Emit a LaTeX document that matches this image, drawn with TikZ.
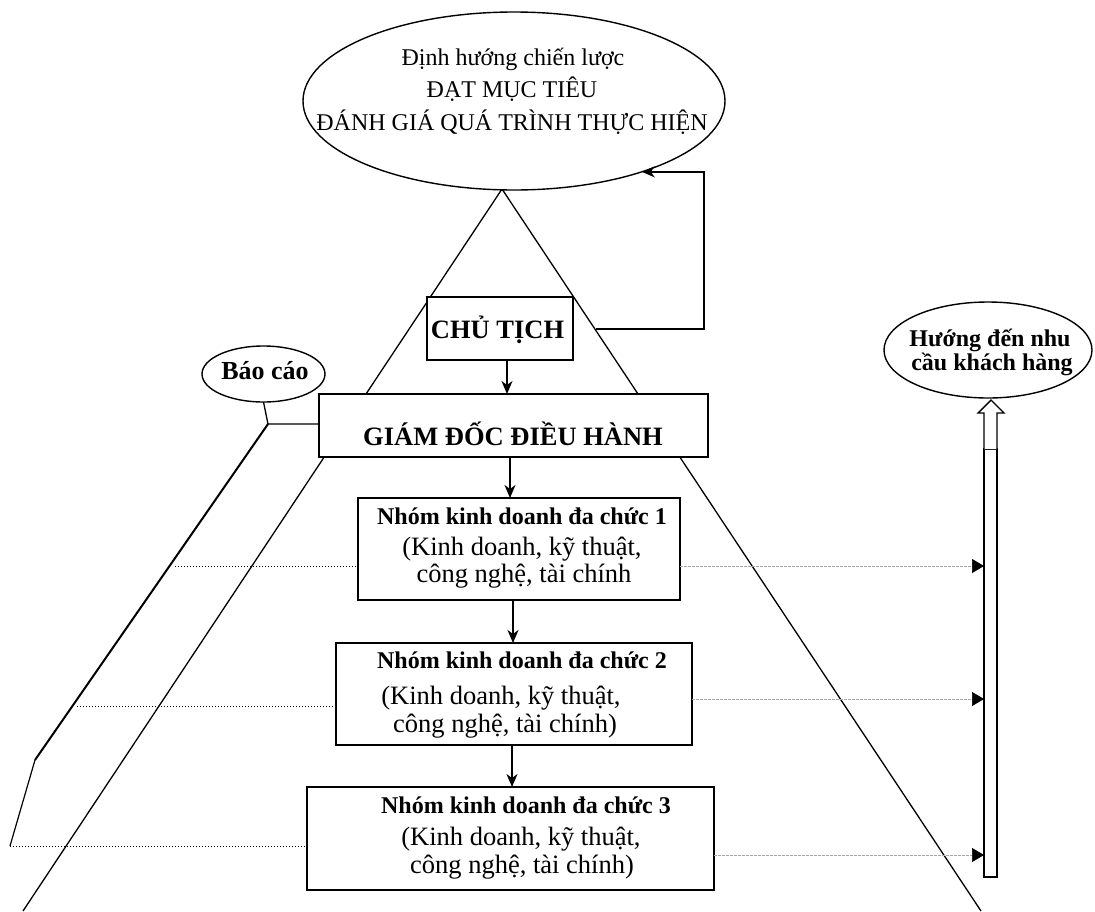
\documentclass[tikz,border=0pt]{standalone}
\usepackage{fontspec}
\setmainfont{Liberation Serif}
\usetikzlibrary{arrows.meta,calc,shapes.geometric}

\tikzset{
  every node/.style={inner sep=0pt, outer sep=0pt},
  boxnode/.style={draw, line width=1.6pt, fill=white, rectangle},
  ovalnode/.style={draw, line width=1.4pt, fill=white, ellipse},
  edgeline/.style={line width=1.3pt},
  flow/.style={line width=1.6pt, -{Stealth[length=13pt,width=11pt,inset=4pt]}},
  txt/.style={anchor=base, font=\fontsize{24}{28}\selectfont},
  bigtxt/.style={anchor=base, font=\fontsize{26.5}{30}\selectfont},
  headtxt/.style={anchor=base, font=\fontsize{26.5}{30}\selectfont\bfseries},
  boldtxt/.style={anchor=base, font=\fontsize{24}{28}\selectfont\bfseries},
  dotlink/.style={line width=1pt, dash pattern=on 1.2pt off 1.8pt},
  graylink/.style={line width=0.7pt, draw=black!35, dash pattern=on 3pt off 1pt,
    -{Triangle[length=12pt,width=14pt,color=black]}},
}

\begin{document}
\begin{tikzpicture}[x=1pt,y=-1pt]
\useasboundingbox (0,0) rectangle (1095,911);

% pyramid sides
\coordinate (apex) at (502,189);
\coordinate (tl) at (23,911);
\coordinate (tr) at (981,911);
\draw[edgeline] (tl) -- (apex) -- (tr);

% reporting line on the left
\coordinate (j) at (268,424);
\coordinate (k) at (35,760);
\coordinate (m) at (10,846);
\draw[line width=2pt] (j) -- (k);
\draw[line width=1.2pt] (k) -- (m);

% goal ellipse
\node[ovalnode, minimum width=422, minimum height=178] (goal) at (514,101) {};
\node[txt] (g1) at (513,65) {Định hướng chiến lược};
\node[txt] (g2) at (512,97) {ĐẠT MỤC TIÊU};
\node[txt] (g3) at (512,130) {ĐÁNH GIÁ QUÁ TRÌNH THỰC HIỆN};

% chain of boxes
\node[boxnode, minimum width=146, minimum height=63] (chu) at (500,328.5) {};
\node[headtxt] (chut) at (497.5,338) {CHỦ TỊCH};

\node[boxnode, minimum width=389, minimum height=63] (gd) at (513.5,425.5) {};
\node[headtxt] (gdt) at (513,445) {GIÁM ĐỐC ĐIỀU HÀNH};

\node[boxnode, minimum width=322, minimum height=102] (b1) at (519,549) {};
\node[boldtxt] (b1a) at (522,524) {Nhóm kinh doanh đa chức 1};
\node[bigtxt] (b1b) at (522,555) {(Kinh doanh, kỹ thuật,};
\node[bigtxt] (b1c) at (524,582) {công nghệ, tài chính};

\node[boxnode, minimum width=356, minimum height=102] (b2) at (514,694) {};
\node[boldtxt] (b2a) at (522,668) {Nhóm kinh doanh đa chức 2};
\node[bigtxt] (b2b) at (501,704) {(Kinh doanh, kỹ thuật,};
\node[bigtxt] (b2c) at (505,732) {công nghệ, tài chính)};

\node[boxnode, minimum width=407, minimum height=103] (b3) at (510.5,838.5) {};
\node[boldtxt] (b3a) at (526,813) {Nhóm kinh doanh đa chức 3};
\node[bigtxt] (b3b) at (521,845) {(Kinh doanh, kỹ thuật,};
\node[bigtxt] (b3c) at (522,873) {công nghệ, tài chính)};

% report bubble
\node[ovalnode, minimum width=123, minimum height=56] (bao) at (263.5,374) {};
\node[headtxt, font=\fontsize{26}{30}\selectfont\bfseries] (baot) at (265,379) {Báo cáo};
\draw[edgeline] (bao.south) -- (j) -- (j -| gd.west);

% customer bubble and upward block arrow
\node[ovalnode, minimum width=208, minimum height=96] (need) at (988,350) {};
\node[boldtxt] (need1) at (990,346) {Hướng đến nhu};
\node[boldtxt] (need2) at (992,370) {cầu khách hàng};

\node[draw, line width=1.4pt, fill=white, minimum width=13, minimum height=428] (shaft) at (990.5,663) {};
\draw[line width=1.4pt, fill=white, line join=miter]
  (shaft.north west) -- ++(0,-36) -- ++(-6,0) -- ++(13,-13) -- ++(13,13)
  -- ++(-7,0) -- (shaft.north east);

% vertical flow
\draw[flow] ([xshift=7pt]chu.south) -- ([xshift=7pt]chu.south |- gd.north);
\draw[flow] ([xshift=-3.5pt]gd.south) -- ([xshift=-3.5pt]gd.south |- b1.north);
\draw[flow] ([xshift=-6pt]b1.south) -- ([xshift=-6pt]b1.south |- b2.north);
\draw[flow] ([xshift=-2pt]b2.south) -- ([xshift=-2pt]b2.south |- b3.north);

% feedback to the goal
\coordinate (fb) at (596,329);
\path (goal.-29) coordinate (gin);
\draw[flow] (fb) -| ($(gin)+(62,0)$) -- (gin);

% dotted links on the left
\coordinate (d1) at (175,566);
\coordinate (d2) at (77,706);
\draw[dotlink] (d1) -- (d1 -| b1.west);
\draw[dotlink] (d2) -- (d2 -| b2.west);
\draw[dotlink] (m) -- (m -| b3.west);

% links to the customer arrow
\coordinate (r1) at ($(b1.east)+(0,17)$);
\coordinate (r2) at ($(b2.east)+(0,5)$);
\coordinate (r3) at ($(b3.east)+(0,16.5)$);
\draw[graylink] (r1) -- (r1 -| shaft.west);
\draw[graylink] (r2) -- (r2 -| shaft.west);
\draw[graylink] (r3) -- (r3 -| shaft.west);
\end{tikzpicture}
\end{document}
